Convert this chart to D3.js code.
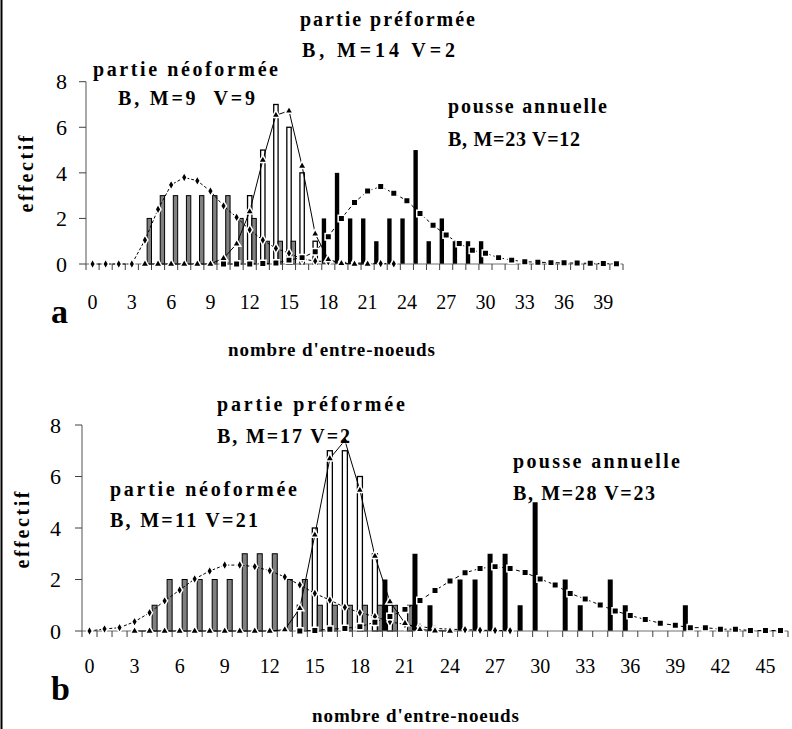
<!DOCTYPE html>
<html>
<head>
<meta charset="utf-8">
<title>effectif - nombre d'entre-noeuds</title>
<script src="https://d3js.org/d3.v7.min.js"></script>
<style>
  body { margin: 0; background: #fff; }
  text { font-family: "Liberation Serif", "Times New Roman", Times, serif; fill: #000; }
  .bold { font-weight: bold; white-space: pre; }
</style>
</head>
<body>
<svg width="792" height="729"></svg>
<script>
// ---- panel a data (categories 0..40) ----
var catsA = d3.range(41);
var tickLabelsA = [0, 3, 6, 9, 12, 15, 18, 21, 24, 27, 30, 33, 36, 39];
//                 0 1 2 3 4 5 6 7 8 9 10 11 12 13 14 15 16 17 18 19 20 21 22 23 24 25 26 27 28 29 30
var neoBarsA    = [0,0,0,0,2,3,3,3,3,3,3, 2, 2, 1, 1, 1, 0, 0, 0, 0, 0, 0, 0, 0, 0, 0, 0, 0, 0, 0, 0, 0,0,0,0,0,0,0,0,0,0];
var preBarsA    = [0,0,0,0,0,0,0,0,0,0,0, 0, 3, 5, 7, 6, 4, 1, 0, 0, 0, 0, 0, 0, 0, 0, 0, 0, 0, 0, 0, 0,0,0,0,0,0,0,0,0,0];
var pousseBarsA = [0,0,0,0,0,0,0,0,0,0,0, 0, 0, 0, 0, 0, 0, 0, 2, 4, 2, 2, 1, 2, 2, 5, 1, 2, 1, 1, 1, 0,0,0,0,0,0,0,0,0,0];
// fitted curves, start category + values
var neoFitStartA = 0;
var neoFitA = [0,0,0,0,1.05,2.4,3.47,3.8,3.65,3.2,2.55,2.05,1.5,1.05,0.69,0.47,0.22,0.13,0.1,0.08,0.05,0.03,0.02,0.01];
var preFitStartA = 4;
var preFitA = [0,0,0,0,0,0,0.25,0.88,2.3,4.56,6.53,6.72,4.3,1.32,0.2,0.03,0,0];
var pousseFitStartA = 10;
var pousseFitA = [0,0,0,0.02,0.04,0.17,0.28,0.54,1.2,2.0,2.7,3.2,3.4,3.1,2.78,2.22,1.7,1.27,0.9,0.6,0.47,0.28,0.17,0.1,0.08,0.06,0.05,0.04,0.03,0.02,0.01];

// ---- panel b data (categories 0..46) ----
var catsB = d3.range(47);
var tickLabelsB = [0, 3, 6, 9, 12, 15, 18, 21, 24, 27, 30, 33, 36, 39, 42, 45];
//                 0 1 2 3 4 5 6 7 8 9 10 11 12 13 14 15 16 17 18 19 20 21 22 23 24 25 26 27 28 29 30 31 32 33 34 35 36 37 38 39 40
var neoBarsB    = [0,0,0,0,1,2,2,2,2,2,3, 3, 3, 2, 2, 1, 1, 1, 1, 1, 1, 1, 0, 0, 0, 0, 0, 0, 0, 0, 0, 0, 0, 0, 0, 0, 0, 0, 0, 0, 0, 0,0,0,0,0,0];
var preBarsB    = [0,0,0,0,0,0,0,0,0,0,0, 0, 0, 0, 1, 4, 7, 7, 6, 3, 1, 0, 0, 0, 0, 0, 0, 0, 0, 0, 0, 0, 0, 0, 0, 0, 0, 0, 0, 0, 0, 0,0,0,0,0,0];
var pousseBarsB = [0,0,0,0,0,0,0,0,0,0,0, 0, 0, 0, 0, 0, 0, 0, 0, 0, 2, 0, 3, 1, 0, 2, 2, 3, 3, 1, 5, 0, 2, 1, 0, 2, 1, 0, 0, 0, 1, 0,0,0,0,0,0];
var neoFitStartB = 0;
var neoFitB = [0,0.08,0.13,0.36,0.71,1.17,1.59,2.02,2.33,2.56,2.56,2.5,2.34,2.1,1.79,1.46,1.2,0.92,0.71,0.56,0.36,0.25,0.17,0.1,0.07,0.05,0.03,0.02,0.01];
var preFitStartB = 3;
var preFitB = [0,0,0,0,0,0,0,0,0,0,0.05,0.88,3.73,6.7,7.4,5.47,2.91,1.14,0.3,0.06,0.01,0];
var pousseFitStartB = 14;
var pousseFitB = [0,0.02,0.07,0.1,0.17,0.34,0.56,0.84,1.18,1.57,1.94,2.26,2.43,2.5,2.43,2.27,2.02,1.79,1.46,1.24,1.01,0.78,0.6,0.45,0.3,0.22,0.13,0.13,0.07,0.07,0.02,0.02,0.02];

var yTicks = [0, 2, 4, 6, 8];

var svg = d3.select("svg");

// left frame line
svg.append("line").attr("x1", 1.5).attr("x2", 1.5).attr("y1", 0).attr("y2", 729)
  .attr("stroke", "#000").attr("stroke-width", 2);

function boldText(parent, str, size, len) {
  var t = parent.append("text").attr("class", "bold")
    .attr("xml:space", "preserve")
    .style("font-size", size + "px")
    .style("font-weight", "bold")
    .style("font-family", '"Liberation Serif", "Times New Roman", Times, serif')
    .text(str);
  if (len) t.attr("textLength", len).attr("lengthAdjust", "spacing");
  return t;
}

function drawPanel(p) {
  var g = svg.append("g");
  var x = d3.scaleBand().domain(p.cats).range([p.left, p.right]).padding(0);
  var sub = d3.scaleBand().domain(["pousse", "pre", "neo"]).range([0, x.bandwidth()]).padding(0);
  var y = d3.scaleLinear().domain([0, 8]).range([p.y0, p.y8]);
  var xl = d3.scaleLinear().domain([0, p.cats.length]).range([p.left, p.right]);

  // bars
  var series = [
    {key: "pousse", vals: p.pousseBars, fill: "#000", stroke: "none", sw: 0},
    {key: "pre", vals: p.preBars, fill: "#fff", stroke: "#000", sw: 1.3},
    {key: "neo", vals: p.neoBars, fill: "#808080", stroke: "#000", sw: 1}
  ];
  series.forEach(function(s) {
    g.append("g").selectAll("rect")
      .data(p.cats.filter(function(c) { return s.vals[c] > 0; }))
      .enter().append("rect")
      .attr("x", function(c) { return x(c) + sub(s.key); })
      .attr("width", sub.bandwidth())
      .attr("y", function(c) { return y(s.vals[c]); })
      .attr("height", function(c) { return y(0) - y(s.vals[c]); })
      .attr("fill", s.fill)
      .attr("stroke", s.stroke)
      .attr("stroke-width", s.sw);
  });

  // axes
  g.append("line").attr("x1", p.left).attr("x2", p.right).attr("y1", y(0)).attr("y2", y(0))
    .attr("stroke", "#707070").attr("stroke-width", 1.2);
  g.append("line").attr("x1", p.left).attr("x2", p.left).attr("y1", y(0)).attr("y2", y(8))
    .attr("stroke", "#707070").attr("stroke-width", 1.2);

  g.append("g").selectAll("line")
    .data(d3.range(p.cats.length + 1))
    .enter().append("line")
    .attr("x1", function(i) { return xl(i); }).attr("x2", function(i) { return xl(i); })
    .attr("y1", y(0)).attr("y2", y(0) + 6)
    .attr("stroke", "#404040").attr("stroke-width", 1);

  g.append("g").selectAll("line")
    .data(yTicks)
    .enter().append("line")
    .attr("x1", p.left - 7).attr("x2", p.left)
    .attr("y1", function(d) { return y(d); }).attr("y2", function(d) { return y(d); })
    .attr("stroke", "#404040").attr("stroke-width", 1);

  g.append("g").selectAll("text")
    .data(yTicks)
    .enter().append("text")
    .attr("x", p.yLabelRight)
    .attr("y", function(d) { return y(d); })
    .attr("dy", "0.35em")
    .attr("text-anchor", "end")
    .style("font-size", "22px")
    .text(function(d) { return d; });

  g.append("g").selectAll("text")
    .data(p.tickLabels)
    .enter().append("text")
    .attr("x", function(c) { return x(c) + x.bandwidth() / 2; })
    .attr("y", p.xLabelBase)
    .attr("text-anchor", "middle")
    .style("font-size", "20px")
    .text(function(d) { return d; });

  // fitted curves
  var fits = [
    {start: p.neoFitStart, vals: p.neoFit, dash: "3,2", sym: d3.symbolDiamond, size: 30},
    {start: p.preFitStart, vals: p.preFit, dash: null, sym: d3.symbolTriangle, size: 30},
    {start: p.pousseFitStart, vals: p.pousseFit, dash: "4,3", sym: d3.symbolSquare, size: 42}
  ];
  fits.forEach(function(f) {
    var pts = f.vals.map(function(v, i) { return [f.start + i, v]; });
    var line = d3.line()
      .x(function(d) { return x(d[0]) + x.bandwidth() / 2; })
      .y(function(d) { return y(d[1]); });
    g.append("path").datum(pts)
      .attr("d", line)
      .attr("fill", "none")
      .attr("stroke", "#000")
      .attr("stroke-width", 1)
      .attr("stroke-dasharray", f.dash);
  });
  fits.forEach(function(f) {
    var pts = f.vals.map(function(v, i) { return [f.start + i, v]; });
    g.append("g").selectAll("path")
      .data(pts)
      .enter().append("path")
      .attr("d", d3.symbol().type(f.sym).size(f.size))
      .attr("transform", function(d) {
        return "translate(" + (x(d[0]) + x.bandwidth() / 2) + "," + y(d[1]) + ")";
      })
      .attr("fill", "#000")
      .attr("stroke", "#fff")
      .attr("stroke-width", 1.5);
  });

  // titles
  boldText(svg, "effectif", 20, 77)
    .attr("transform", "translate(" + p.yTitleX + "," + (p.yTitleY + 38.5) + ") rotate(-90)");
  boldText(svg, "nombre d'entre-noeuds", 19, 207)
    .attr("x", p.xTitleX).attr("y", p.xTitleY);
  boldText(svg, p.letter, 34)
    .attr("x", p.letterX).attr("y", p.letterY);

  p.notes.forEach(function(n) {
    boldText(svg, n[0], 20, n[3]).attr("x", n[1]).attr("y", n[2]);
  });
}

drawPanel({
  cats: catsA, tickLabels: tickLabelsA,
  neoBars: neoBarsA, preBars: preBarsA, pousseBars: pousseBarsA,
  neoFit: neoFitA, neoFitStart: neoFitStartA,
  preFit: preFitA, preFitStart: preFitStartA,
  pousseFit: pousseFitA, pousseFitStart: pousseFitStartA,
  left: 86, right: 623, y0: 264, y8: 81.7,
  yLabelRight: 67, xLabelBase: 309,
  yTitleX: 33, yTitleY: 174,
  xTitleX: 228, xTitleY: 356,
  letter: "a", letterX: 51, letterY: 323,
  notes: [
    ["partie néoformée", 93, 76, 185],
    ["B, M=9  V=9", 118, 105, 137],
    ["partie préformée", 300, 26, 175],
    ["B, M=14 V=2", 302, 57, 153],
    ["pousse annuelle", 448, 113, 159],
    ["B, M=23 V=12", 448, 146, 132]
  ]
});

drawPanel({
  cats: catsB, tickLabels: tickLabelsB,
  neoBars: neoBarsB, preBars: preBarsB, pousseBars: pousseBarsB,
  neoFit: neoFitB, neoFitStart: neoFitStartB,
  preFit: preFitB, preFitStart: preFitStartB,
  pousseFit: pousseFitB, pousseFitStart: pousseFitStartB,
  left: 82, right: 788, y0: 631, y8: 425,
  yLabelRight: 61, xLabelBase: 673,
  yTitleX: 29, yTitleY: 530,
  xTitleX: 312, xTitleY: 722,
  letter: "b", letterX: 51, letterY: 700,
  notes: [
    ["partie préformée", 217, 411, 188],
    ["B, M=17 V=2", 217, 443, 133],
    ["partie néoformée", 110, 496, 187],
    ["B, M=11 V=21", 110, 527, 148],
    ["pousse annuelle", 513, 468, 167],
    ["B, M=28 V=23", 513, 500, 142]
  ]
});
</script>
</body>
</html>
